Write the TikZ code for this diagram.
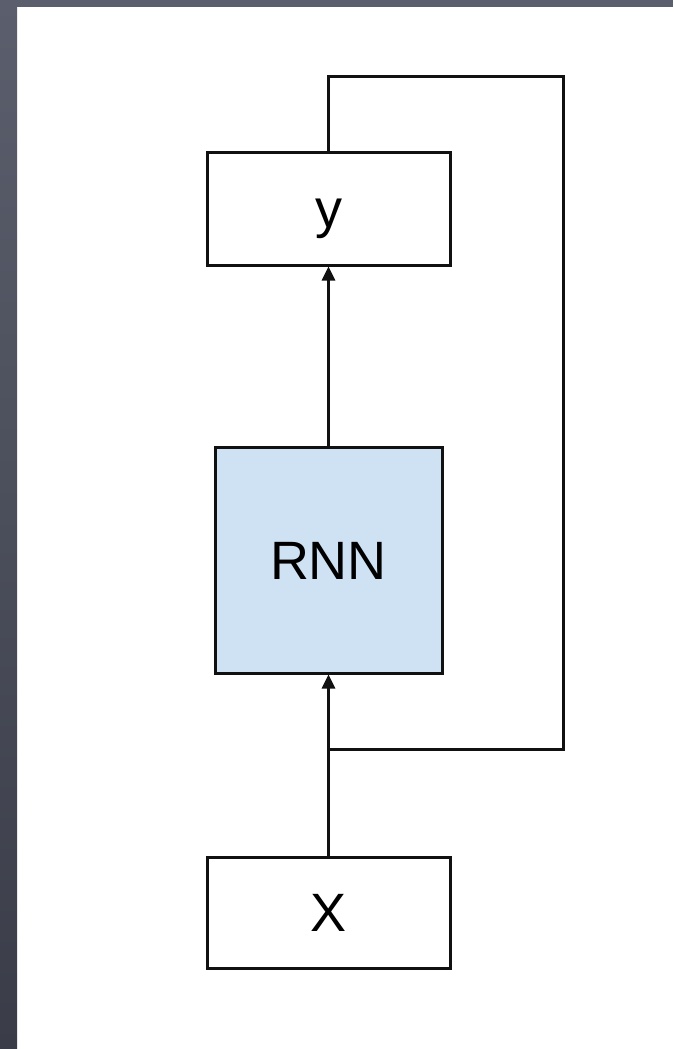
\documentclass[tikz,border=0pt]{standalone}
\usepackage{fontspec}
\setmainfont{Liberation Sans}
\usetikzlibrary{arrows.meta}
\definecolor{rnnfill}{HTML}{CFE2F3}
\definecolor{bandtop}{HTML}{5B5F6D}
\definecolor{bandbot}{HTML}{3A3D48}
\definecolor{linecol}{HTML}{111111}
\tikzset{
  boxnode/.style={draw=linecol, line width=3pt, fill=white, inner sep=0pt,
    text height=38.7pt, text depth=0pt,
    font=\fontsize{54}{60}\selectfont},
  conn/.style={draw=linecol, line width=3pt, line join=miter},
  arr/.style={conn, -{Triangle[length=14pt,width=13pt]}}
}
\begin{document}
\begin{tikzpicture}[x=1pt,y=-1pt]
\useasboundingbox (0,0) rectangle (673,1049);
\fill[white] (0,0) rectangle (673,1049);
\shade[top color=bandtop, bottom color=bandbot] (0,0) rectangle (17,1049);
\fill[bandtop] (0,0) rectangle (673,7);
\node[boxnode, minimum width=243pt, minimum height=113pt] (ybox) at (328.5,208.5) {y};
\node[boxnode, fill=rnnfill, minimum width=227pt, minimum height=226pt] (rnn) at (328.5,560) {RNN};
\node[boxnode, minimum width=243pt, minimum height=111pt] (xbox) at (328.5,912.5) {X};
\coordinate (tr) at (563,76);
\coordinate (j) at (328.5,749);
\draw[arr] (rnn.north) -- (ybox.south);
\draw[arr] (xbox.north) -- (rnn.south);
\draw[conn] (ybox.north) -- (ybox.north |- tr) -- (tr) -- (tr |- j) -- (j);
\end{tikzpicture}
\end{document}
